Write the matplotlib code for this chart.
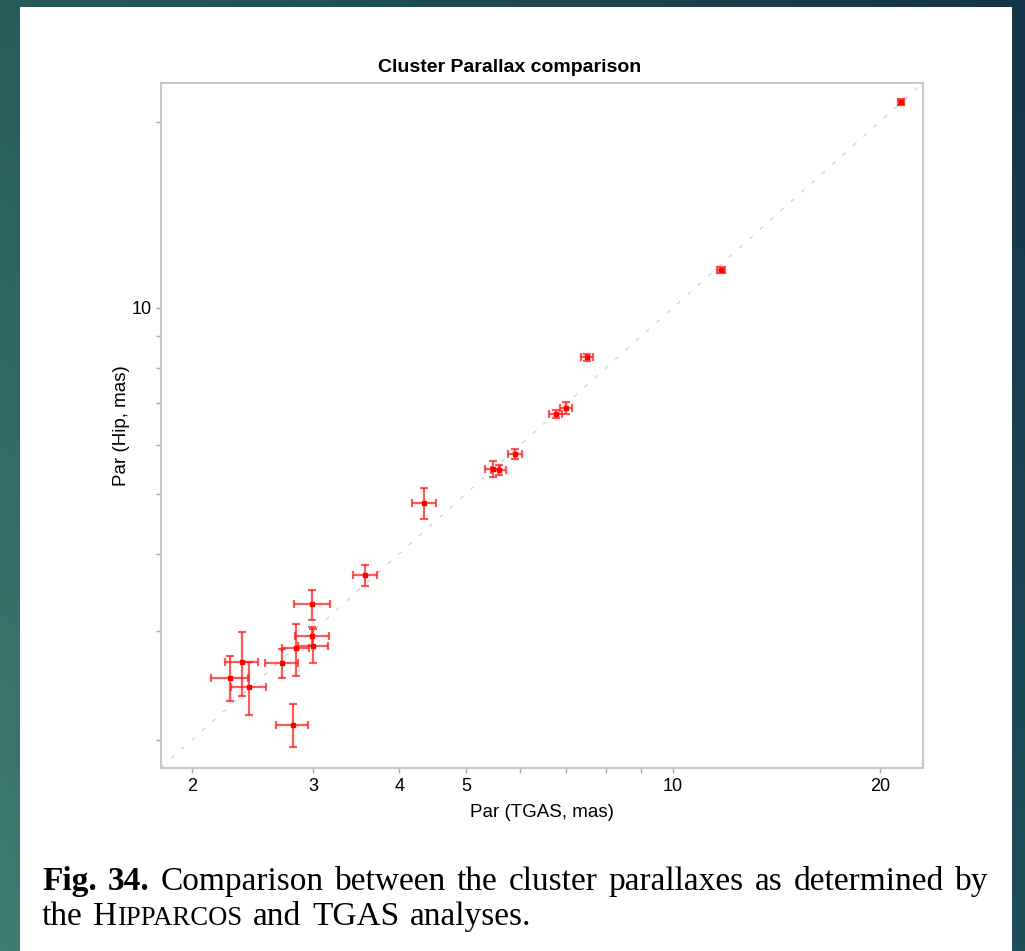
import numpy as np
import matplotlib
matplotlib.use("Agg")
import matplotlib.pyplot as plt
from matplotlib.patches import Rectangle
from matplotlib.transforms import IdentityTransform
from matplotlib.ticker import FixedLocator, FixedFormatter, NullFormatter

# cluster parallaxes (mas): TGAS solution vs Hipparcos solution
par_tgas = [2.27, 2.36, 2.42, 2.70, 2.83, 2.99, 3.00, 2.99, 2.80, 3.57,
            4.35, 5.47, 5.58, 5.90, 6.75, 7.00, 7.49, 11.74, 21.46]
err_tgas = [0.14, 0.13, 0.14, 0.15, 0.13, 0.17, 0.15, 0.18, 0.15, 0.14,
            0.18, 0.14, 0.14, 0.14, 0.14, 0.14, 0.15, 0.16, 0.22]
par_hip = [2.52, 2.67, 2.43, 2.66, 2.81, 2.94, 2.84, 3.31, 2.115, 3.69,
           4.83, 5.49, 5.46, 5.80, 6.72, 6.88, 8.31, 11.53, 21.50]
err_hip = [0.21, 0.32, 0.24, 0.14, 0.27, 0.10, 0.18, 0.19, 0.17, 0.14,
           0.28, 0.16, 0.10, 0.11, 0.10, 0.15, 0.12, 0.13, 0.24]

x_ticks = [2, 3, 4, 5, 10, 20]
x_minor = [6, 7, 8, 9]
y_ticks = [10]
y_minor = [2, 3, 4, 5, 6, 7, 8, 9, 20]
lims = (1.8, 23.1)

W, H = 1025, 951
fig = plt.figure(figsize=(W / 100, H / 100), dpi=100)

# slide background: teal gradient with a white panel on top
bg = fig.add_axes([0, 0, 1, 1], zorder=-10)
corners = np.array([[[38, 92, 92], [20, 52, 72]],
                    [[62, 126, 114], [30, 78, 88]]]) / 255.0
u = np.linspace(0, 1, 200)[None, :, None]
v = np.linspace(0, 1, 200)[:, None, None]
top = corners[0, 0] * (1 - u) + corners[0, 1] * u
bot = corners[1, 0] * (1 - u) + corners[1, 1] * u
bg.imshow(top * (1 - v) + bot * v, aspect="auto", extent=[0, 1, 0, 1])
bg.add_patch(Rectangle((20 / W, 0), (1012 - 20) / W, 1 - 7 / H,
                       facecolor="white", edgecolor="none"))
bg.set_xlim(0, 1)
bg.set_ylim(0, 1)
bg.axis("off")

sans = ["Liberation Sans", "DejaVu Sans"]

ax = fig.add_axes([160.7 / W, 1 - 768 / H, (923 - 160.7) / W, (768 - 83) / H])
ax.set_xscale("log")
ax.set_yscale("log")
ax.set_xlim(lims)
ax.set_ylim(lims)

ax.plot(lims, lims, color="#d4d4d4", lw=1.0, ls=(0, (3, 7)), zorder=1)
ax.errorbar(par_tgas, par_hip, xerr=err_tgas, yerr=err_hip, fmt="s",
            color="red", ms=3.5, ecolor=(1, 0.1, 0.1, 0.72), elinewidth=1.6,
            capsize=2.6, capthick=1.6, zorder=3)

ax.xaxis.set_major_locator(FixedLocator(x_ticks))
ax.xaxis.set_major_formatter(FixedFormatter([str(t) for t in x_ticks]))
ax.xaxis.set_minor_locator(FixedLocator(x_minor))
ax.xaxis.set_minor_formatter(NullFormatter())
ax.yaxis.set_major_locator(FixedLocator(y_ticks))
ax.yaxis.set_major_formatter(FixedFormatter([str(t) for t in y_ticks]))
ax.yaxis.set_minor_locator(FixedLocator(y_minor))
ax.yaxis.set_minor_formatter(NullFormatter())
ax.tick_params(which="both", direction="out", length=3.5, width=1,
               color="#a8a8a8", labelsize=13, pad=4)
ax.tick_params(axis="y", pad=3)
for lab in ax.get_xticklabels() + ax.get_yticklabels():
    lab.set_family(sans)

for sp in ax.spines.values():
    sp.set_color("#c8c8c8")
    sp.set_linewidth(1.5)

ax.set_title("Cluster Parallax comparison", family=sans, fontsize=14,
             fontweight="bold", pad=8, x=0.458)
ax.set_xlabel("Par (TGAS, mas)", family=sans, fontsize=13.5, labelpad=6)
ax.set_ylabel("Par (Hip, mas)", family=sans, fontsize=13.5, labelpad=1)

# caption below the figure, set word by word in pixel coordinates
renderer = fig.canvas.get_renderer()
serif = "Liberation Serif"
fs = 24


def place_line(tokens, x_left, y_base, x_right=None, space_em=0.25):
    """tokens: list of words, each a list of (text, size, weight) parts"""
    arts = []
    widths = []
    for parts in tokens:
        group = []
        w = 0
        for txt, size, weight in parts:
            t = fig.text(0, y_base, txt, transform=IdentityTransform(),
                         family=serif, fontsize=size, fontweight=weight,
                         ha="left", va="baseline", color="black")
            tw = t.get_window_extent(renderer).width
            group.append((t, tw))
            w += tw
        arts.append(group)
        widths.append(w)
    space = fs * space_em * 100 / 72
    if x_right is not None and len(tokens) > 1:
        space = (x_right - x_left - sum(widths)) / (len(tokens) - 1)
    x = x_left
    for group, w in zip(arts, widths):
        xx = x
        for t, tw in group:
            t.set_x(xx)
            xx += tw
        x += w + space


line1 = [[("Fig.", fs, "bold")], [("34.", fs, "bold")]] + \
    [[(wd, fs, "normal")] for wd in
     "Comparison between the cluster parallaxes as determined by".split()]
line2 = [[("the", fs, "normal")],
         [("H", fs, "normal"), ("IPPARCOS", fs * 0.8, "normal")],
         [("and", fs, "normal")], [("TGAS", fs, "normal")],
         [("analyses.", fs, "normal")]]

place_line(line1, 42, H - 890, 988)
place_line(line2, 42, H - 925, space_em=0.32)

fig.savefig("out.png", dpi=100)
